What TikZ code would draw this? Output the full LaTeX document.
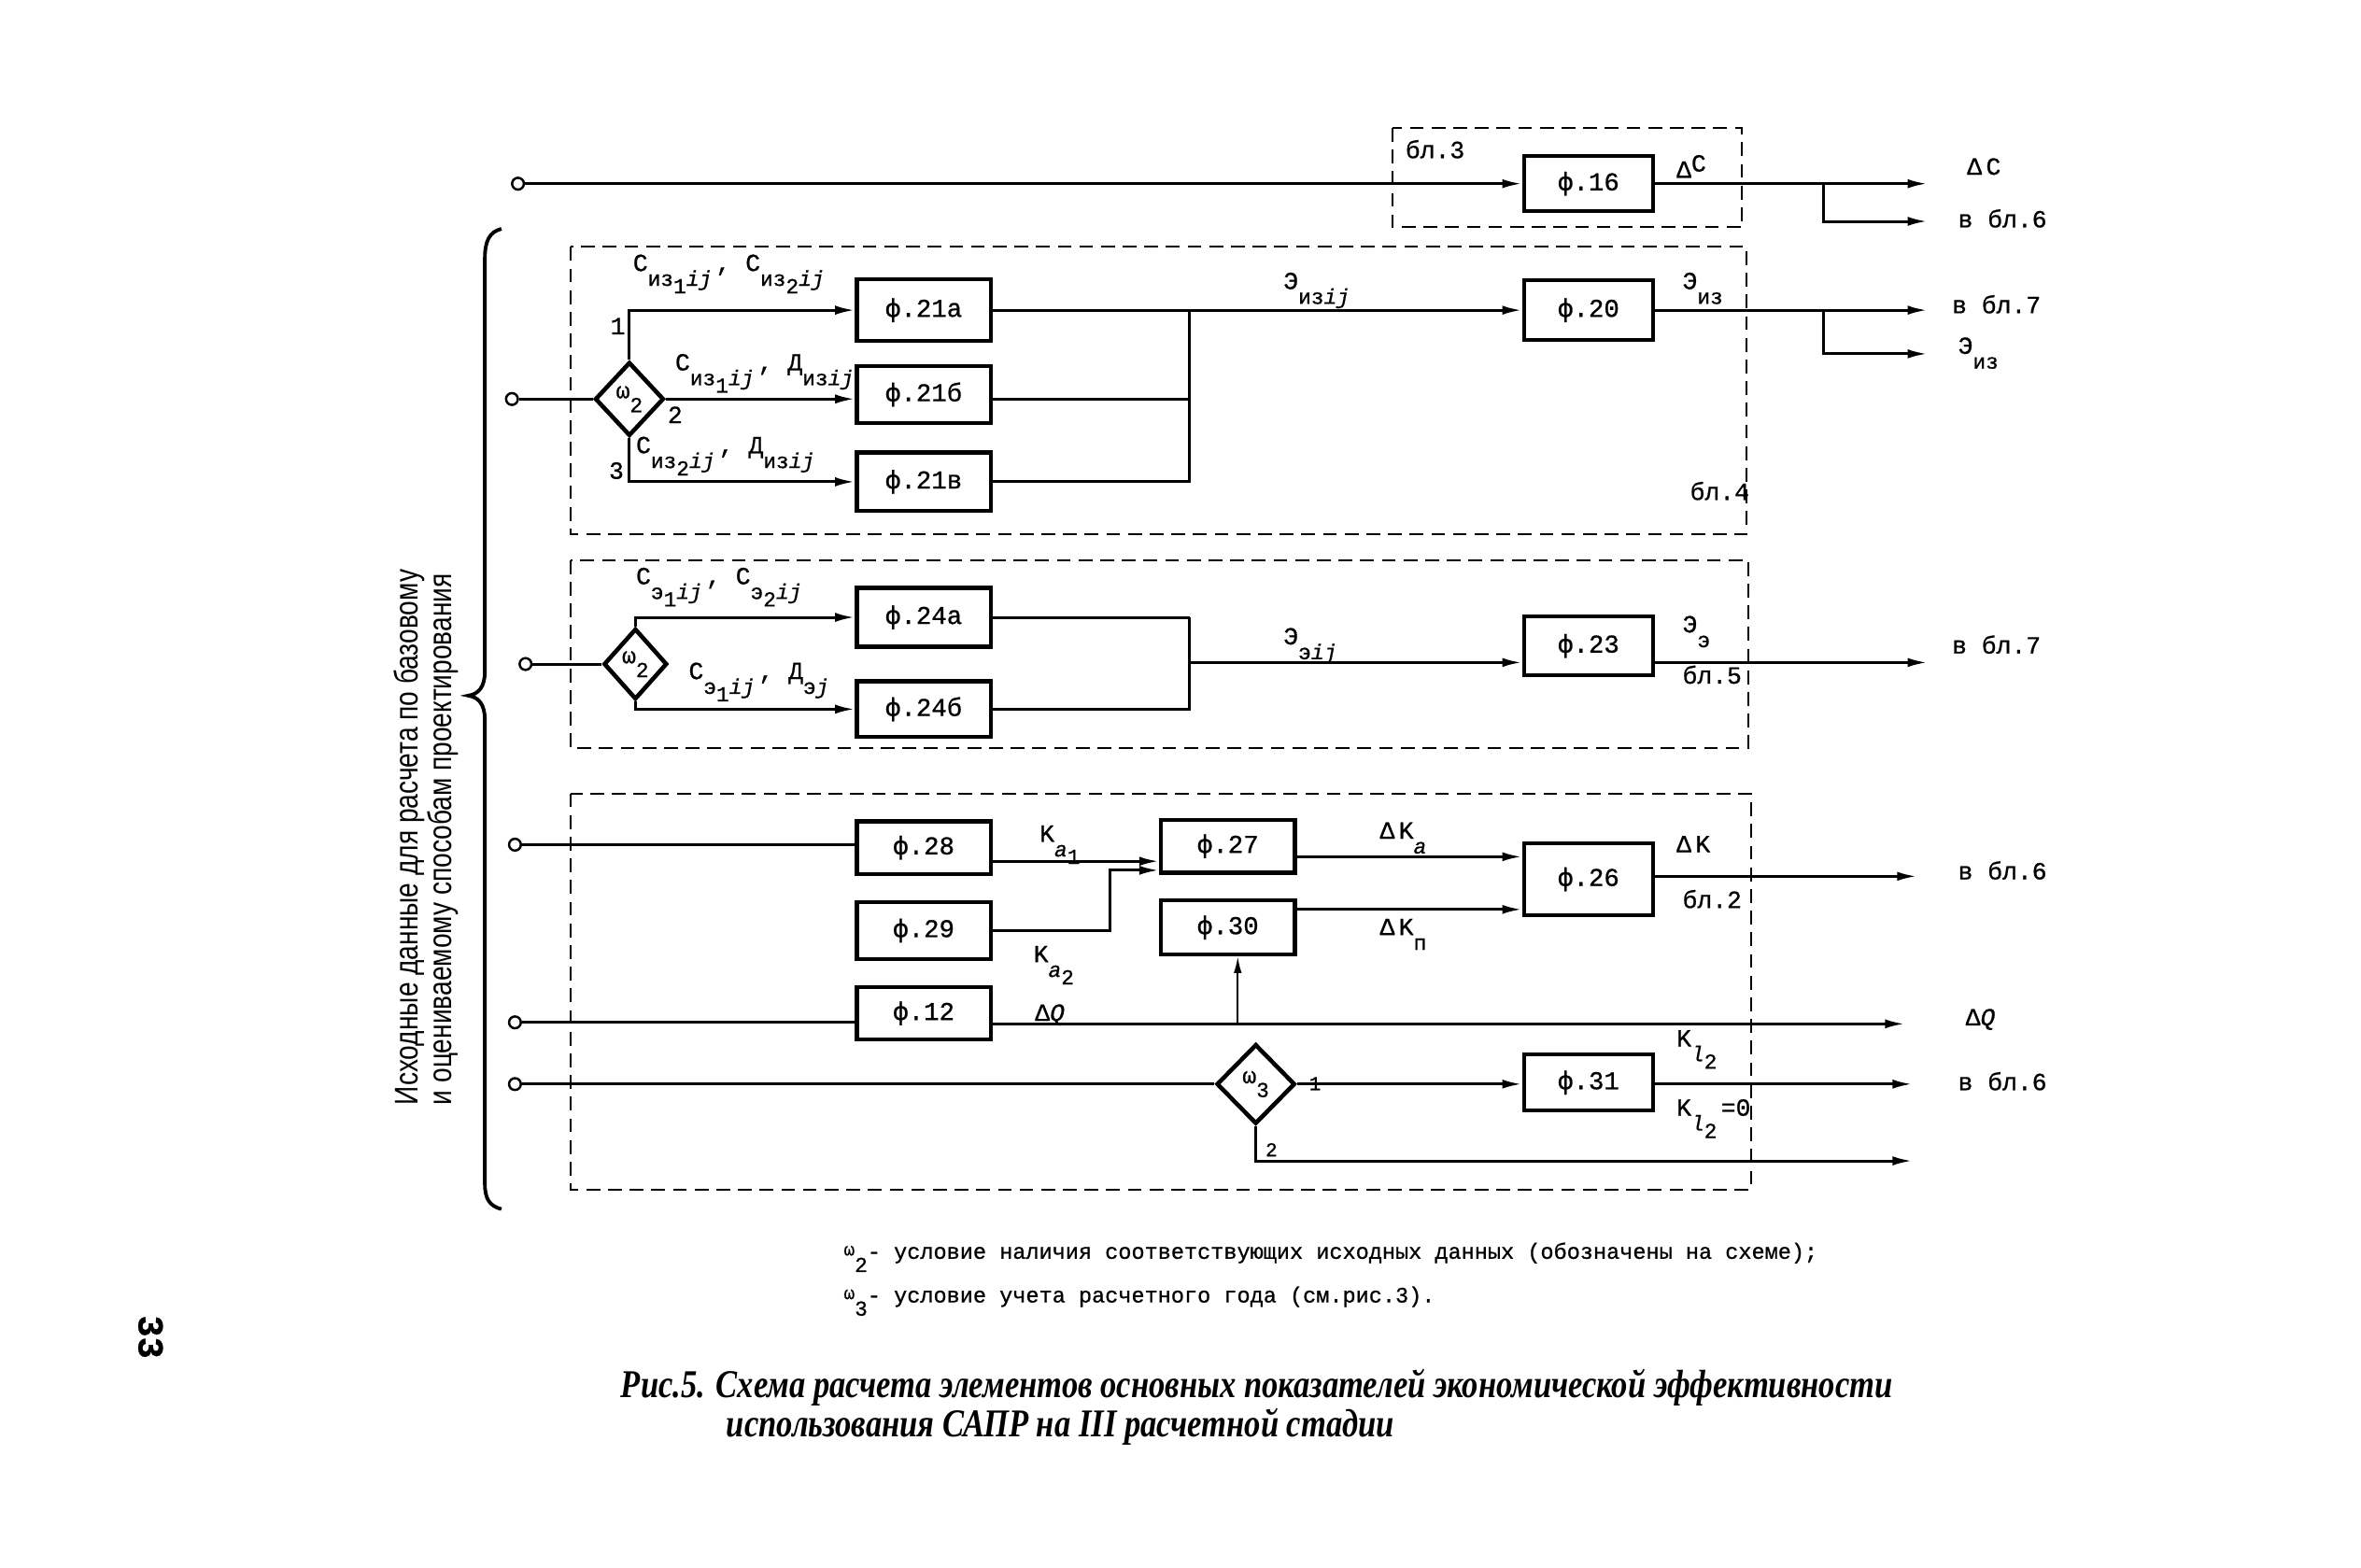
\documentclass[tikz,border=0pt]{standalone}
\usepackage{fontspec}
\setmainfont[FakeBold=0.8]{Liberation Mono}
\newfontfamily\narrowfont[FakeStretch=0.8]{Liberation Sans}
\newfontfamily\capfont[FakeStretch=0.82]{Liberation Serif}
\usetikzlibrary{arrows.meta,shapes.geometric}
\newcommand\lo[1]{\raisebox{-0.6em}{\fontsize{6.5pt}{7pt}\selectfont #1}}
\newcommand\loo[1]{\raisebox{-0.35em}{#1}}
\begin{document}
\begin{tikzpicture}[x=0.16122mm,y=-0.16122mm,
  every node/.style={font=\fontsize{7.5pt}{9pt}\selectfont, inner sep=0pt},
  fbox/.style={draw, line width=1.2pt, minimum width=40.8pt, minimum height=17.5pt, font=\fontsize{7.8pt}{10pt}\selectfont},
  cond/.style={diamond, draw, line width=1.3pt, inner sep=0pt, font=\fontsize{7pt}{8pt}\selectfont},
  incirc/.style={circle, draw, line width=0.7pt, minimum size=3.6pt, fill=white},
  wire/.style={line width=0.85pt},
  arr/.style={wire, -{Latex[length=6pt,width=2.8pt]}},
  thinarr/.style={line width=0.5pt, -{Latex[length=5pt,width=2.4pt]}},
  blk/.style={line width=0.55pt, dash pattern=on 4.2pt off 2.4pt},
  lab/.style={anchor=base west},
]
\fill[white] (0,0) rectangle (1568,1041);
\useasboundingbox (0,0) rectangle (1568,1041);

% dashed blocks
\draw[blk] (925,85) rectangle (1157,151);
\draw[blk] (379,164) rectangle (1160,355);
\draw[blk] (379,372) rectangle (1161,497);
\draw[blk] (379,527) rectangle (1163,790);

% brace
\draw[line width=1.1pt] (333,152) .. controls (325,154) and (322,160) .. (322,172) -- (322,446) .. controls (322,456) and (318,461) .. (311,462) .. controls (318,463) and (322,468) .. (322,478) -- (322,786) .. controls (322,796) and (325,801) .. (333,803);
\node[rotate=90, align=left, font=\narrowfont\fontsize{10pt}{10.5pt}\selectfont] (side) at (283,556) {Исходные данные для расчета по базовому\\и оцениваемому способам проектирования};

% boxes
\node[fbox, minimum width=39.4pt, minimum height=16.8pt] (f16) at (1055,122) {ф.16};
\node[fbox, minimum height=18.8pt] (f21a) at (613.5,206) {ф.21а};
\node[fbox, minimum height=17.4pt] (f21b) at (613.5,262) {ф.21б};
\node[fbox, minimum height=17.9pt] (f21v) at (613.5,320) {ф.21в};
\node[fbox, minimum width=39.4pt, minimum height=18.3pt] (f20) at (1055,206) {ф.20};
\node[fbox, minimum height=17.9pt] (f24a) at (613.5,410) {ф.24а};
\node[fbox, minimum height=17.0pt] (f24b) at (613.5,471) {ф.24б};
\node[fbox, minimum width=39.4pt, minimum height=17.9pt] (f23) at (1055,429) {ф.23};
\node[fbox, minimum height=16.1pt] (f28) at (613.5,563) {ф.28};
\node[fbox, minimum height=17.4pt] (f29) at (613.5,618) {ф.29};
\node[fbox, minimum height=16.1pt] (f12) at (613.5,673) {ф.12};
\node[fbox, minimum height=16.1pt] (f27) at (815.5,562) {ф.27};
\node[fbox, minimum height=16.5pt] (f30) at (815.5,616) {ф.30};
\node[fbox, minimum width=39.4pt, minimum height=22pt] (f26) at (1055,584) {ф.26};
\node[fbox, minimum width=39.4pt, minimum height=17pt] (f31) at (1055,719) {ф.31};

% conditions
\node[cond, minimum width=21pt, minimum height=22.5pt] (w2a) at (418,265) {ω\lo{2}};
\node[cond, minimum width=19.3pt, minimum height=21.6pt] (w2b) at (422,441) {ω\lo{2}};
\node[cond, minimum width=23.9pt, minimum height=24.3pt] (w3) at (834,720) {ω\lo{3}};

% inputs
\node[incirc] (in1) at (344,122) {};
\node[incirc] (in2) at (340,265) {};
\node[incirc] (in3) at (349,441) {};
\node[incirc] (in4) at (342,561) {};
\node[incirc] (in5) at (342,679) {};
\node[incirc] (in6) at (342,720) {};

% coordinates
\coordinate (o1) at (1280,122);
\coordinate (j1) at (1211,122);
\coordinate (o1b) at (1280,147);
\coordinate (c4) at (790,206);
\coordinate (o2) at (1280,206);
\coordinate (j2) at (1211,206);
\coordinate (o2b) at (1280,235);
\coordinate (c5t) at (790,410);
\coordinate (c5) at (790,440);
\coordinate (o5) at (1280,440);
\coordinate (k1) at (700,572);
\coordinate (k2) at (737,578);
\coordinate (ka) at (960,569);
\coordinate (kp) at (960,604);
\coordinate (o6) at (1273,582);
\coordinate (oq) at (1265,680);
\coordinate (vq) at (822,680);
\coordinate (o7) at (1270,720);
\coordinate (o8) at (1270,771);

% top row
\draw[arr] (in1) -- (f16);
\draw[arr] (f16) -- (o1);
\draw[arr] (j1) |- (o1b);

% block 4
\draw[wire] (in2) -- (w2a);
\draw[arr] (w2a.north) |- (f21a.west);
\draw[arr] (w2a.east) -- (w2a.east -| f21b.west);
\draw[arr] (w2a.south) |- (f21v.west);
\draw[wire] (f21a.east) -- (c4);
\draw[wire] (w2a.east -| f21b.east) -- (w2a.east -| c4);
\draw[wire] (f21v.east) -| (c4);
\draw[arr] (c4) -- (f20.west);
\draw[arr] (f20.east) -- (o2);
\draw[arr] (j2) |- (o2b);

% block 5
\draw[wire] (in3) -- (w2b);
\draw[arr] (w2b.north) |- (f24a.west);
\draw[arr] (w2b.south) |- (f24b.west);
\draw[wire] (f24a.east) -- (c5t);
\draw[wire] (f24b.east) -| (c5t);
\draw[arr] (c5) -- (c5 -| f23.west);
\draw[arr] (c5 -| f23.east) -- (o5);

% block 2
\draw[wire] (in4) -- (in4 -| f28.west);
\draw[arr] (k1 -| f28.east) -- (k1 -| f27.west);
\draw[arr] (f29.east) -| (k2) -- (k2 -| f27.west);
\draw[arr] (ka -| f27.east) -- (ka -| f26.west);
\draw[arr] (kp -| f30.east) -- (kp -| f26.west);
\draw[arr] (o6 -| f26.east) -- (o6);
\draw[wire] (in5) -- (in5 -| f12.west);
\draw[arr] (oq -| f12.east) -- (oq);
\draw[thinarr] (vq) -- (vq |- f30.south);
\draw[wire] (in6) -- (w3);
\draw[arr] (w3.east) -- (w3.east -| f31.west);
\draw[arr] (w3.east -| f31.east) -- (o7);
\draw[arr] (w3.south) |- (o8);

% labels top
\node[lab] (lb3) at (933,105) {бл.3};
\node[lab] (ldc) at (1113,118) {Δ\raisebox{0.25em}{C}};
\node[lab] (rdc) at (1306,116) {Δ\,C};
\node[lab] (rb6a) at (1300,151) {в бл.6};

% labels block 4
\node[lab] (l41) at (420,180) {С\lo{из\loo{1}\textit{ij}}\,, С\lo{из\loo{2}\textit{ij}}};
\node[lab] (l42) at (448,246) {С\lo{из\loo{1}\textit{ij}}\,, Д\lo{из\textit{ij}}};
\node[lab] (l43) at (422,301) {С\lo{из\loo{2}\textit{ij}}\,, Д\lo{из\textit{ij}}};
\node[lab] (n1) at (405,222) {1};
\node[lab] (n2) at (443,281) {2};
\node[lab] (n3) at (404,318) {3};
\node[lab] (leij) at (852,192) {Э\lo{из\textit{ij}}};
\node[lab] (lei) at (1117,192) {Э\lo{из}};
\node[lab] (rei) at (1300,235) {Э\lo{из}};
\node[lab] (rb7a) at (1296,208) {в бл.7};
\node[lab] (lb4) at (1122,332) {бл.4};

% labels block 5
\node[lab] (l51) at (422,388) {С\lo{э\loo{1}\textit{ij}}\,, С\lo{э\loo{2}\textit{ij}}};
\node[lab] (l52) at (457,451) {С\lo{э\loo{1}\textit{ij}}\,, Д\lo{э\textit{j}}};
\node[lab] (leeij) at (852,428) {Э\lo{э\textit{ij}}};
\node[lab] (lee) at (1117,420) {Э\lo{э}};
\node[lab] (lb5) at (1117,454) {бл.5};
\node[lab] (rb7b) at (1296,434) {в бл.7};

% labels block 2
\node[lab] (lka1) at (690,559) {K\lo{\textit{a}\loo{1}}};
\node[lab] (lka2) at (686,639) {K\lo{\textit{a}\loo{2}}};
\node[lab] (ldka) at (916,557) {Δ\,K\lo{\textit{a}}};
\node[lab] (ldkp) at (916,621) {Δ\,K\lo{п}};
\node[lab] (ldk) at (1113,566) {Δ\,K};
\node[lab] (lb2) at (1117,603) {бл.2};
\node[lab] (rb6b) at (1300,584) {в бл.6};
\node[lab] (ldq) at (687,678) {Δ\textit{Q}};
\node[lab] (rdq) at (1305,681) {Δ\textit{Q}};
\node[lab] (lkl) at (1113,695) {K\lo{\textit{l}\loo{2}}};
\node[lab] (lkl0) at (1113,741) {K\lo{\textit{l}\loo{2}}\,=0};
\node[lab] (rb6c) at (1300,724) {в бл.6};
\node[lab, font=\fontsize{6pt}{7pt}\selectfont] (m1) at (869,724) {1};
\node[lab, font=\fontsize{6pt}{7pt}\selectfont] (m2) at (840,768) {2};

% footnotes
\node[lab, font=\fontsize{6.7pt}{8pt}\selectfont] (fn1) at (560,836) {\raisebox{0.15em}{\fontsize{5.5pt}{6pt}\selectfont ω}\lo{2}- условие наличия соответствующих исходных данных (обозначены на схеме);};
\node[lab, font=\fontsize{6.7pt}{8pt}\selectfont] (fn2) at (560,865) {\raisebox{0.15em}{\fontsize{5.5pt}{6pt}\selectfont ω}\lo{3}- условие учета расчетного года (см.рис.3).};

% caption
\node[lab, font=\capfont\bfseries\itshape\fontsize{12pt}{14pt}\selectfont] (cap1) at (412,928) {Рис.5. Схема расчета элементов основных показателей экономической эффективности};
\node[lab, font=\capfont\bfseries\itshape\fontsize{12pt}{14pt}\selectfont] (cap2) at (482,954) {использования САПР на III расчетной стадии};

% page number
\node[rotate=-90, font=\fontsize{11pt}{12pt}\selectfont\bfseries] (pg) at (100,888) {33};
\end{tikzpicture}
\end{document}
